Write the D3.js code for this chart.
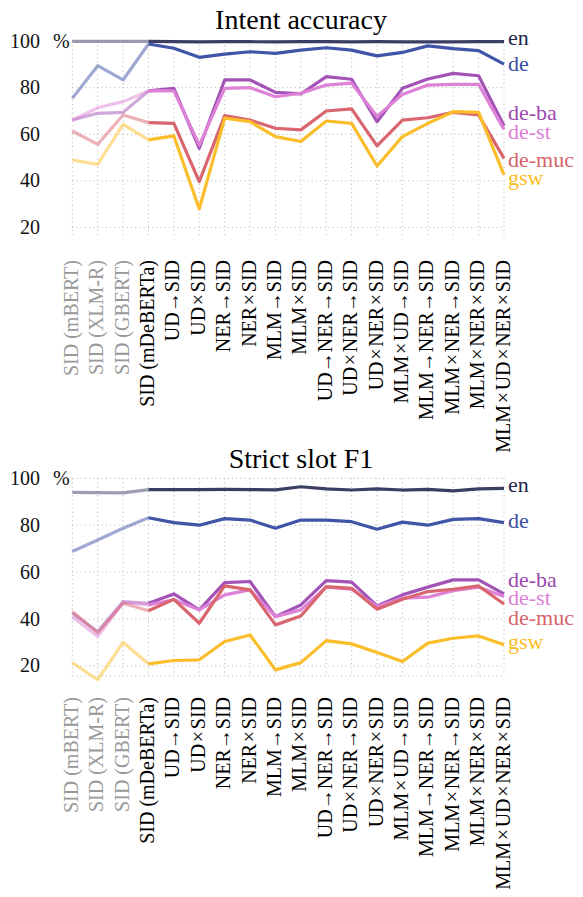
<!DOCTYPE html>
<html><head><meta charset="utf-8">
<script src="https://cdn.jsdelivr.net/npm/d3@7"></script>
<style>body{margin:0;background:#fff}svg{display:block}text{font-family:"Liberation Serif","Times New Roman",serif}</style>
</head><body><svg id="c" width="583" height="897"></svg>
<script>
const categories = ["SID (mBERT)","SID (XLM-R)","SID (GBERT)","SID (mDeBERTa)","UD→SID","UD\u200A×\u200ASID","NER→SID","NER\u200A×\u200ASID","MLM→SID","MLM\u200A×\u200ASID","UD→NER→SID","UD\u200A×\u200ANER→SID","UD\u200A×\u200ANER\u200A×\u200ASID","MLM\u200A×\u200AUD→SID","MLM→NER→SID","MLM\u200A×\u200ANER→SID","MLM\u200A×\u200ANER\u200A×\u200ASID","MLM\u200A×\u200AUD\u200A×\u200ANER\u200A×\u200ASID"];
const seriesNames = ["en","de","de-ba","de-st","de-muc","gsw"];
const yTicks = [20,40,60,80,100];

// Intent accuracy
const intentEn   = [99.8,99.8,99.8,99.8,99.7,99.6,99.7,99.7,99.6,99.7,99.7,99.6,99.7,99.6,99.6,99.6,99.7,99.7];
const intentDe   = [75.4,89.4,83.3,98.7,96.9,93.0,94.4,95.4,94.7,96.1,97.1,96.1,93.6,95.1,97.9,96.7,95.9,90.1];
const intentDeBa = [66.1,69.0,69.4,78.6,79.7,54.0,83.3,83.3,78.0,77.3,84.7,83.6,65.4,79.7,83.7,86.1,85.1,63.7];
const intentDeSt = [66.1,71.4,74.0,78.6,78.6,55.4,79.7,80.0,76.1,77.6,81.1,81.9,67.6,77.1,81.1,81.4,81.4,62.1];
const intentDeMuc= [61.4,55.7,68.3,65.0,64.7,39.7,68.0,66.1,62.6,61.9,70.0,70.9,55.0,66.1,67.1,69.4,68.3,49.7];
const intentGsw  = [49.0,47.1,64.3,57.6,59.3,28.0,66.9,65.4,59.0,56.9,65.7,64.7,46.4,59.0,64.7,69.7,69.4,42.6];

// Strict slot F1
const slotEn   = [94.0,93.9,93.8,95.2,95.2,95.2,95.3,95.2,95.1,96.4,95.5,95.0,95.5,95.0,95.3,94.6,95.5,95.7];
const slotDe   = [68.8,73.7,78.7,83.2,81.1,80.0,82.8,82.2,78.7,82.2,82.2,81.5,78.3,81.3,80.0,82.5,82.8,81.1];
const slotDeBa = [42.5,34.7,47.4,46.7,50.7,43.9,55.5,56.0,41.0,46.0,56.4,55.7,45.6,50.3,53.6,56.7,56.7,50.7];
const slotDeSt = [41.0,32.5,47.0,46.0,48.2,43.9,50.3,52.4,41.0,43.9,53.6,52.7,45.3,48.9,49.3,52.1,53.6,49.6];
const slotDeMuc= [43.2,34.0,46.7,43.5,48.4,38.2,54.1,52.4,37.5,41.3,53.8,53.1,44.2,48.4,51.7,52.7,54.1,46.4];
const slotGsw  = [21.4,14.1,30.0,20.9,22.3,22.6,30.4,33.2,18.3,21.4,30.8,29.4,25.7,21.9,29.7,31.8,32.8,29.0];

const colors = ["#3b3e63","#4054a8","#a352b6","#de82d8","#d9666f","#fbbd2a"];
const labelColors = ["#23264a","#3a4ea3","#9a47ae","#dd7fd6","#d6636b","#f9bb22"];
const nBaseline = 3; // first three categories are baselines (faded)

const svg = d3.select("#c");

function drawChart(cfg){
  const x = d3.scalePoint().domain(categories).range([72.3,504]);
  const y = d3.scaleLinear().domain([cfg.yMin,100]).range([cfg.bottom,cfg.top]);
  const g = svg.append("g");
  g.append("text").attr("x",301).attr("y",cfg.titleY).attr("text-anchor","middle")
    .attr("font-size",28).attr("fill","#000").text(cfg.title);
  const grid = g.append("g").attr("stroke","#aaa").attr("stroke-width",0.9).attr("stroke-dasharray","1,3.2");
  grid.selectAll("line.v").data(categories).join("line")
    .attr("x1",d=>x(d)).attr("x2",d=>x(d)).attr("y1",y(100)).attr("y2",y(cfg.yMin));
  const hTicks = cfg.bottomLine ? yTicks.concat([cfg.yMin]) : yTicks;
  grid.selectAll("line.h").data(hTicks).join("line")
    .attr("x1",x.range()[0]).attr("x2",x.range()[1]).attr("y1",d=>y(d)).attr("y2",d=>y(d));
  g.selectAll("text.yt").data(yTicks).join("text")
    .attr("x",40).attr("y",d=>y(d)+6.5).attr("text-anchor","end").attr("font-size",20).attr("fill","#111").text(d=>d);
  g.append("text").attr("x",53).attr("y",y(100)+6.5).attr("font-size",20).attr("fill","#111").text("%");
  const line = d3.line().x(d=>x(d.c)).y(d=>y(d.v));
  cfg.series.forEach((vals,i)=>{
    const pts = vals.map((v,j)=>({c:categories[j],v}));
    g.append("path").attr("d",line(pts.slice(0,nBaseline+1))).attr("fill","none")
      .attr("stroke",colors[i]).attr("stroke-opacity",0.5).attr("stroke-width",3.2).attr("stroke-linejoin","round");
    g.append("path").attr("d",line(pts.slice(nBaseline))).attr("fill","none")
      .attr("stroke",colors[i]).attr("stroke-width",3.2).attr("stroke-linejoin","round");
    const last = vals[vals.length-1];
    g.append("text").attr("x",508).attr("y",y(last)+cfg.labelDy[i])
      .attr("font-size",22).attr("fill",labelColors[i]).text(seriesNames[i]);
  });
  g.selectAll("text.xl").data(categories).join("text")
    .attr("transform",d=>`translate(${x(d)},${cfg.xLabelY}) rotate(-90)`)
    .attr("text-anchor","end").attr("dy","0.28em").attr("font-size",20)
    .attr("fill",(d,j)=>j<nBaseline?"#999":"#000").text(d=>d);
}

drawChart({title:"Intent accuracy", titleY:29, top:41, bottom:236, yMin:16.4, xLabelY:260,
  series:[intentEn,intentDe,intentDeBa,intentDeSt,intentDeMuc,intentGsw],
  labelDy:[3.3,6.8,-5.5,9.7,8.7,10.2], bottomLine:false});
drawChart({title:"Strict slot F1", titleY:468, top:478.3, bottom:676, yMin:15.7, xLabelY:697,
  series:[slotEn,slotDe,slotDeBa,slotDeSt,slotDeMuc,slotGsw],
  labelDy:[3.3,5.7,-7.2,8.5,21,4.2], bottomLine:true});
</script></body></html>
